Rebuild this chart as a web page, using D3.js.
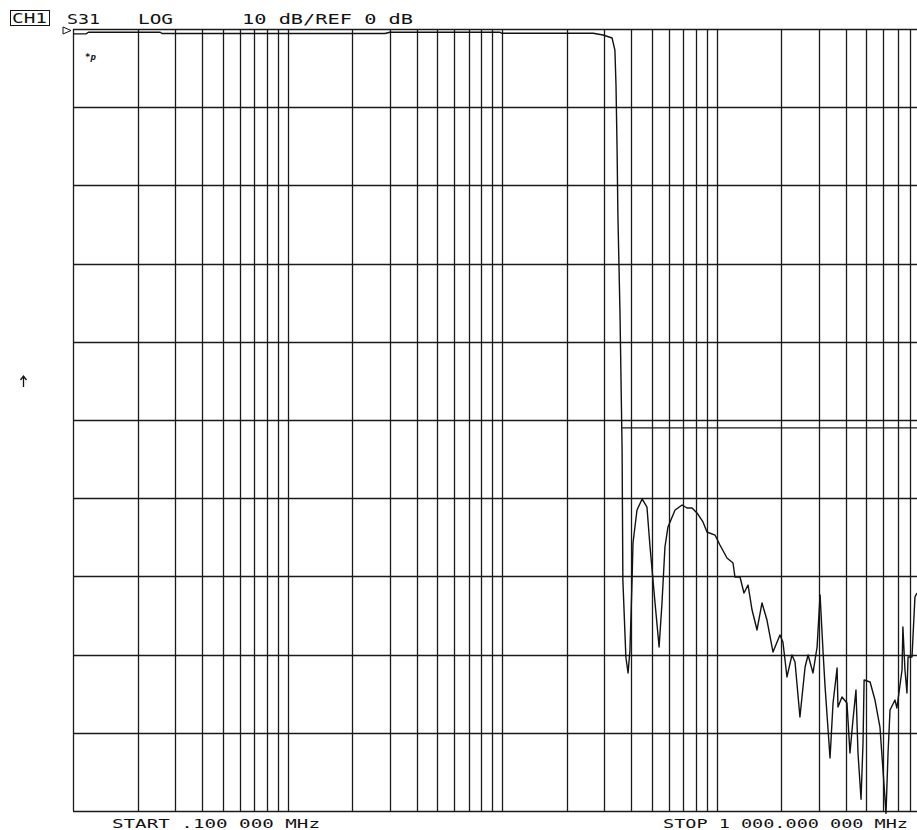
<!DOCTYPE html>
<html>
<head>
<meta charset="utf-8">
<script src="https://cdn.jsdelivr.net/npm/d3@7"></script>
<style>
  body { margin: 0; background: #fff; }
  svg { display: block; }
  text { font-family: "DejaVu Sans Mono", "Liberation Mono", monospace; fill: #111; }
</style>
</head>
<body>
<svg id="chart"></svg>
<script>
// S31 trace, frequency in MHz and magnitude in dB
const freqs = [
  0.1, 0.115, 0.118, 0.255, 0.26, 2.85, 3.0, 9.8, 10.0, 26.6, 29.6, 32.6,
  33.6, 34.0, 34.4, 34.7, 35.5, 36.3, 36.6, 37.8, 38.7, 39.5, 40.4, 40.8,
  42.6, 45.0, 47.4, 49.0, 51.7, 54.0, 55.7, 57.5, 59.4, 64.1, 69.1, 72.8,
  76.9, 81.1, 86.5, 90.3, 98.4, 103.8, 111.9, 119.4, 121.9, 128.7, 134.3,
  140.3, 146.5, 154.5, 163.0, 171.9, 183.4, 197.6, 204.0, 213.1, 224.8,
  232.3, 244.9, 258.8, 267.3, 281.8, 294.4, 304.0, 314.1, 320.8, 338.3,
  349.4, 364.9, 368.4, 384.6, 405.7, 419.0, 432.7, 446.9, 456.7, 471.9,
  482.0, 487.7, 520.0, 548.1, 578.1, 597.2, 616.9, 630.6, 644.1, 679.2,
  693.5, 732.8, 739.6, 756.2, 772.5, 781.7, 815.4, 841.7, 860.3
];
const gains = [
  -0.62, -0.62, -0.42, -0.42, -0.58, -0.58, -0.42, -0.42, -0.55, -0.55, -0.77, -1.15,
  -2.69, -7.16, -15.47, -23.79, -36.57, -53.84, -70.46, -80.31, -82.35, -79.41, -70.46, -65.73,
  -61.51, -60.10, -61.13, -66.24, -73.40, -79.03, -73.40, -66.24, -63.68, -61.51, -60.87, -61.25,
  -61.25, -61.89, -63.04, -64.32, -64.71, -65.98, -67.65, -68.29, -70.08, -70.08, -72.12,
  -71.10, -74.30, -76.85, -73.40, -75.58, -79.67, -77.49, -78.39, -82.86, -80.05,
  -80.95, -87.98, -81.59, -80.05, -82.35, -79.03, -72.38, -79.80, -84.14, -93.22,
  -86.19, -81.71, -86.70, -85.42, -86.19, -92.58, -88.36, -84.53, -92.58, -98.5,
  -91.30, -83.25, -83.50, -85.81, -89.26, -94.76, -100.3, -92.58, -87.08, -85.81,
  -86.83, -81.97, -76.47, -81.97, -84.91, -80.31, -80.31, -72.63, -72.12
];

// limit line
const limitFreqs = [36.3, 1000];
const limitDb = [-51, -51];

// annotation texts
const headerTexts = ["S31", "LOG", "10 dB/REF 0 dB"];
const startLabel = "START  .100 000 MHz";
const stopLabel = "STOP 1 000.000 000 MHz";

const width = 917;
const height = 830;
const margin = { top: 29, left: 73, bottom: 19 };

const svg = d3.select("#chart").attr("width", width).attr("height", height);

const x = d3.scaleLog().domain([0.1, 1000]).range([margin.left, 931]);
const y = d3.scaleLinear().domain([0, -100]).range([margin.top, height - margin.bottom]);

const g = svg.append("g");

// grid: log columns, 10 dB rows
g.selectAll(".vgrid")
  .data(x.ticks())
  .enter()
  .append("line")
  .attr("x1", d => Math.round(x(d)) + 0.5)
  .attr("x2", d => Math.round(x(d)) + 0.5)
  .attr("y1", y(0))
  .attr("y2", y(-100))
  .attr("stroke", "#1a1a1a")
  .attr("stroke-width", 1.3);

g.selectAll(".hgrid")
  .data(y.ticks(10))
  .enter()
  .append("line")
  .attr("x1", x(0.1))
  .attr("x2", width)
  .attr("y1", d => Math.round(y(d)) + 0.5)
  .attr("y2", d => Math.round(y(d)) + 0.5)
  .attr("stroke", "#1a1a1a")
  .attr("stroke-width", 1.3);

// limit line
const line = d3.line().x((d, i) => x(d)).y((d, i) => y(limitDb[i]));
g.append("path")
  .attr("d", line(limitFreqs))
  .attr("fill", "none")
  .attr("stroke", "#1a1a1a")
  .attr("stroke-width", 1.3);

// trace
const trace = d3.line().x(d => x(d)).y((d, i) => y(gains[i]));
g.append("path")
  .attr("d", trace(freqs))
  .attr("fill", "none")
  .attr("stroke", "#111")
  .attr("stroke-width", 1.4)
  .attr("stroke-linejoin", "round");

// reference marker
svg.append("path")
  .attr("d", `M63,${y(0) - 2} L71,${y(0) + 1.5} L63,${y(0) + 5} Z`)
  .attr("fill", "none")
  .attr("stroke", "#111")
  .attr("stroke-width", 1);

// header
svg.append("rect")
  .attr("x", 10.5).attr("y", 10.5).attr("width", 39).attr("height", 15)
  .attr("fill", "none").attr("stroke", "#111").attr("stroke-width", 1);
svg.append("text").attr("x", 12).attr("y", 23).attr("font-size", 14)
  .attr("textLength", 35).attr("lengthAdjust", "spacingAndGlyphs").text("CH1");

const headerX = [67, 138, 242];
const headerW = [33, 35, 171];
svg.selectAll(".hdr")
  .data(headerTexts)
  .enter()
  .append("text")
  .attr("x", (d, i) => headerX[i])
  .attr("y", 24)
  .attr("font-size", 14)
  .attr("textLength", (d, i) => headerW[i])
  .attr("lengthAdjust", "spacingAndGlyphs")
  .text(d => d);

// footer
svg.append("text").attr("x", 112).attr("y", 828).attr("font-size", 13)
  .attr("textLength", 208).attr("lengthAdjust", "spacingAndGlyphs").text(startLabel);
svg.append("text").attr("x", 663).attr("y", 828).attr("font-size", 13)
  .attr("textLength", 245).attr("lengthAdjust", "spacingAndGlyphs").text(stopLabel);

// small marks
svg.append("text").attr("x", 85).attr("y", 60).attr("font-size", 9)
  .attr("font-style", "italic").attr("font-weight", "bold").text("*p");
svg.append("path")
  .attr("d", "M23.5,387 L23.5,376 M20.5,380 L23.5,376 L26.5,380")
  .attr("fill", "none").attr("stroke", "#111").attr("stroke-width", 1.3);
</script>
</body>
</html>
